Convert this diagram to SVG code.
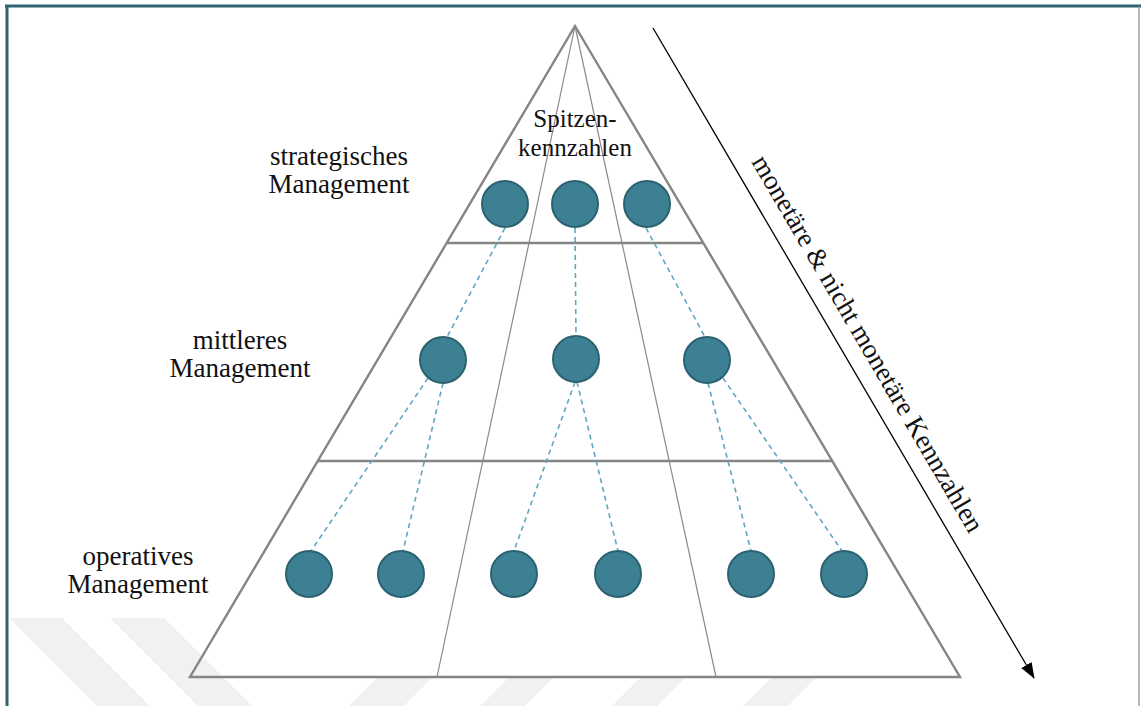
<svg xmlns="http://www.w3.org/2000/svg" width="1141" height="706" viewBox="0 0 1141 706">
  <style>
    .lbl { font-family: "Liberation Serif", "Times New Roman", serif; font-size: 27px; fill: #111; text-anchor: middle; }
    .lbl-sm { font-size: 25px; }
    .node { fill: #3e8093; stroke: #2b6272; stroke-width: 2; }
    .dash { stroke: #5fa6c2; stroke-width: 1.6; stroke-dasharray: 5 4; fill: none; }
    .tier { stroke: #858585; stroke-width: 2.4; fill: none; }
    .ray { stroke: #8a8a8a; stroke-width: 1.2; fill: none; }
    .mark { fill: #f1f1f1; }
  </style>
  <defs>
    <marker id="arrowhead" viewBox="0 0 16 12" refX="15" refY="6" markerWidth="16" markerHeight="12" markerUnits="userSpaceOnUse" orient="auto">
      <path d="M0,0 L16,6 L0,12 Z" fill="#000"/>
    </marker>
  </defs>

  <!-- page background and frame -->
  <rect x="0" y="0" width="1141" height="706" fill="#fff"/>
  <line x1="5" y1="6" x2="1141" y2="6" stroke="#2f6371" stroke-width="3"/>
  <line x1="7" y1="5" x2="7" y2="706" stroke="#2f6371" stroke-width="3"/>
  <line x1="1139" y1="6" x2="1139" y2="706" stroke="#7d8d92" stroke-width="1.2"/>

  <!-- faint background chevrons -->
  <g id="background-bands">
    <polygon class="mark" points="9,618 62,618 150,706 97,706"/>
    <polygon class="mark" points="110,618 164,618 252,706 198,706"/>
    <polygon class="mark" points="349,706 404,706 433,677 378,677"/>
    <polygon class="mark" points="480,706 525,706 554,677 509,677"/>
    <polygon class="mark" points="612,706 657,706 686,677 641,677"/>
    <polygon class="mark" points="743,706 788,706 817,677 772,677"/>
  </g>

  <!-- pyramid -->
  <g id="pyramid">
    <polygon points="575,26 960,677 190,677" fill="#fff" class="tier"/>
    <line class="ray" x1="575" y1="26" x2="437" y2="677"/>
    <line class="ray" x1="575" y1="26" x2="716" y2="677"/>
    <line class="tier" x1="447" y1="243" x2="703" y2="243"/>
    <line class="tier" x1="318" y1="461" x2="832" y2="461"/>
  </g>

  <!-- dashed links between levels -->
  <g id="connectors">
    <line class="dash" x1="505" y1="228" x2="447" y2="337"/>
    <line class="dash" x1="575" y1="228" x2="576" y2="336"/>
    <line class="dash" x1="646" y1="228" x2="705" y2="337"/>
    <line class="dash" x1="428" y1="378" x2="311" y2="551"/>
    <line class="dash" x1="443" y1="383" x2="403" y2="551"/>
    <line class="dash" x1="575" y1="382" x2="514" y2="551"/>
    <line class="dash" x1="577" y1="382" x2="618" y2="551"/>
    <line class="dash" x1="708" y1="383" x2="751" y2="551"/>
    <line class="dash" x1="723" y1="378" x2="842" y2="551"/>
  </g>

  <!-- key figure nodes -->
  <g id="top-level">
    <circle id="t1" class="node" cx="505" cy="204" r="23"/>
    <circle id="t2" class="node" cx="575" cy="204" r="23"/>
    <circle id="t3" class="node" cx="647" cy="204" r="23"/>
  </g>
  <g id="middle-level">
    <circle id="m1" class="node" cx="443" cy="360" r="23"/>
    <circle id="m2" class="node" cx="576" cy="359" r="23"/>
    <circle id="m3" class="node" cx="707" cy="360" r="23"/>
  </g>
  <g id="bottom-level">
    <circle id="b1" class="node" cx="309" cy="574" r="23"/>
    <circle id="b2" class="node" cx="401" cy="574" r="23"/>
    <circle id="b3" class="node" cx="514" cy="574" r="23"/>
    <circle id="b4" class="node" cx="618" cy="574" r="23"/>
    <circle id="b5" class="node" cx="751" cy="574" r="23"/>
    <circle id="b6" class="node" cx="844" cy="574" r="23"/>
  </g>

  <!-- level labels -->
  <g id="label-top">
    <text class="lbl lbl-sm" x="575" y="127">Spitzen-</text>
    <text class="lbl lbl-sm" x="575" y="156">kennzahlen</text>
  </g>
  <g id="label-strategic">
    <text class="lbl" x="339" y="165">strategisches</text>
    <text class="lbl" x="339" y="193">Management</text>
  </g>
  <g id="label-middle">
    <text class="lbl" x="240" y="349">mittleres</text>
    <text class="lbl" x="240" y="377">Management</text>
  </g>
  <g id="label-operative">
    <text class="lbl" x="138" y="565">operatives</text>
    <text class="lbl" x="138" y="593">Management</text>
  </g>

  <!-- direction arrow with rotated caption -->
  <g id="direction">
    <line x1="653" y1="28" x2="1034" y2="678" stroke="#000" stroke-width="1.3" marker-end="url(#arrowhead)"/>
    <text class="lbl" transform="translate(653,28) rotate(59.65)" x="381" y="-17">monetäre &amp; nicht monetäre Kennzahlen</text>
  </g>
</svg>
